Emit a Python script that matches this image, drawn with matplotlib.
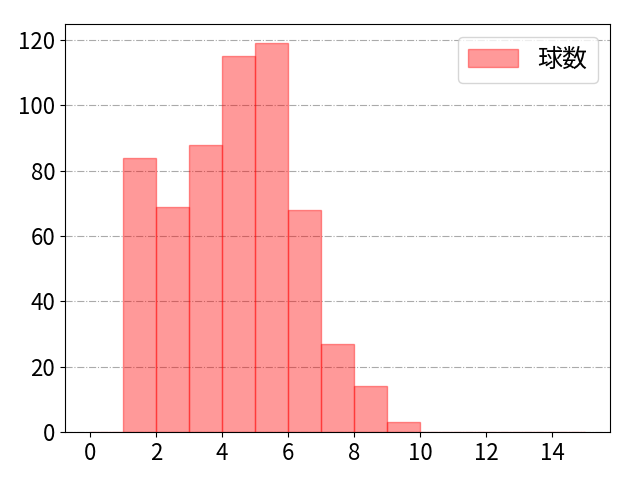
import matplotlib
matplotlib.use("Agg")
import matplotlib.pyplot as plt
import numpy as np

plt.rcParams['font.family'] = ['Noto Sans CJK JP', 'DejaVu Sans']
plt.rcParams['font.size'] = 16

bin_edges = list(range(0, 16))
counts = [0, 84, 69, 88, 115, 119, 68, 27, 14, 3, 0, 0, 0, 0, 0]
label = "球数"

fig, ax = plt.subplots(figsize=(6.4, 4.8), dpi=100)
fig.subplots_adjust(left=65/640, right=610/640, bottom=1-432/480, top=1-24/480)
ax.bar(bin_edges[:-1], counts, width=1, align='edge', color='red', alpha=0.4,
       edgecolor='red', linewidth=1, label=label)
ax.grid(axis='y', linestyle='-.', color='#aaaaaa', linewidth=0.8)
ax.set_axisbelow(True)
ax.set_xticks([0, 2, 4, 6, 8, 10, 12, 14])
ax.set_yticks([0, 20, 40, 60, 80, 100, 120])
ax.tick_params(labelsize=16)
ax.legend(loc='upper right', fontsize=18)
fig.savefig('out.png')
